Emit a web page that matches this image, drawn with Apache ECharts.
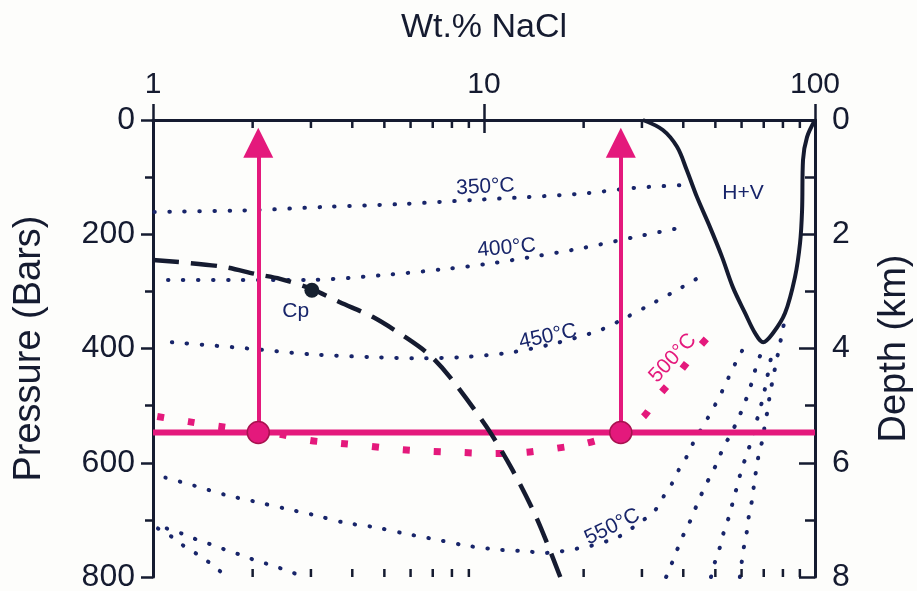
<!DOCTYPE html>
<html>
<head>
<meta charset="utf-8">
<script src="https://cdn.jsdelivr.net/npm/echarts@6/dist/echarts.min.js"></script>
<style>
  html, body { margin: 0; padding: 0; background: #fdfdfb; }
  #chart { width: 917px; height: 591px; }
</style>
</head>
<body>
<div id="chart"></div>
<script>
// Salinity (wt.% NaCl) versus pressure (bars) for the H2O-NaCl system.
// Each isotherm is a list of [wt.% NaCl, pressure in bars] pairs.
const iso350 = [[1.01,161],[1.96,158],[3.35,152],[5.69,147],[9.26,140],[13.5,135],[20.6,128],[28.2,119],[39.6,114]];
const iso400 = [[1.11,280],[1.83,280],[2.92,280],[4.85,272],[7.62,261],[10.5,251],[14.5,238],[19.9,224],[29.6,203],[41.3,186]];
const iso450 = [[1.14,389],[1.94,400],[2.98,410],[4.56,415],[6.28,417],[8.64,415],[12.0,407],[16.4,391],[22.4,368],[27.0,345],[32.8,319],[39.6,293],[47.5,266]];
const iso500 = [[1.03,519],[1.28,528],[1.57,536],[2.40,550],[2.98,561],[3.67,566],[4.52,571],[5.65,577],[6.96,580],[8.58,582],[10.7,584],[13.3,582],[16.4,575],[20.3,566],[24.7,550],[30.0,522],[34.0,480],[39.1,440],[44.6,398],[51.3,358]];
const iso550 = [[1.09,626],[1.33,640],[1.65,656],[2.03,668],[2.50,680],[3.09,692],[3.80,705],[4.69,713],[5.77,724],[7.11,734],[8.83,745],[10.95,752],[13.49,755],[15.07,758],[16.7,756],[18.8,751],[20.9,746],[25.2,731],[27.6,717],[30.2,701],[32.8,684],[34.7,661],[37.0,636],[38.8,612],[41.0,589],[42.8,566],[47.5,521],[50.2,496],[52.7,472],[55.0,449],[57.7,424],[60.6,401]];
// higher isotherms: low-salinity limbs (left) and high-salinity limbs (right)
const isoHighLeftA = [[1.035,715],[1.149,731],[1.249,747],[1.368,761],[1.497,777],[1.627,794],[1.685,800]];
const isoHighLeftB = [[1.10,715],[1.223,724],[1.349,734],[1.497,743],[1.65,752],[1.832,761],[2.02,770],[2.24,778],[2.49,787],[2.74,796],[2.82,800]];
const isoHighRightA = [[35.5,800],[37.0,775],[38.6,748],[40.2,724],[42.2,699],[44.0,673],[45.9,649],[48.2,624],[50.6,600],[52.7,575],[55.4,552],[58.1,528],[60.6,503],[62.8,479],[65.0,452],[66.8,426],[69.7,401]];
const isoHighRightB = [[48.5,800],[49.9,773],[51.6,748],[53.1,720],[55.0,694],[56.5,668],[58.1,642],[59.8,615],[61.9,589],[64.1,563],[65.9,538],[67.7,512],[69.7,486],[71.1,461],[72.6,435],[74.1,408]];
const isoHighRightC = [[59.3,800],[60.1,773],[61.0,747],[62.3,719],[63.2,691],[64.6,664],[65.5,636],[67.7,584],[69.7,556],[70.6,531],[72.1,505],[73.1,479],[74.7,452],[76.3,424],[77.9,400],[79.5,373],[81.2,347]];
// critical curve (dashed) and the halite + vapour field boundary
const criticalCurve = [[1.0,245],[1.59,256],[2.06,270],[2.42,278],[3.02,296],[3.67,319],[4.62,345],[5.85,382],[6.87,412],[7.89,450],[10.2,538],[12.2,613],[14.5,700],[17.0,800]];
const criticalPoint = [[3.02,298]];
const haliteVapour = [[30.2,0],[34.7,17.5],[38.3,47],[41.0,88],[44.0,135],[48.2,188],[52.4,240],[56.5,293],[61.5,338],[65.9,373],[69.7,389],[74.7,373],[81.2,338],[87.0,275],[90.1,216],[91.4,158],[92.0,70],[94.6,30],[100,0]];
// boiling path: constant pressure line with two fluid compositions
const pathPressure = 547;
const pathSalinities = [2.08, 25.9];
const arrowTopPressure = 40;
// axis ranges and tick values
const wtRange = [1, 100];
const pressureRange = [0, 800];
const depthRange = [0, 8];
const wtMinorTicks = [2,3,4,5,6,7,8,9,20,30,40,50,60,70,80,90];
// annotations: [text, wt.%, bars, angle, kind]
const annotations = [
  ['350°C', 10.1, 117, 3, 'navy'],
  ['400°C', 11.7, 224, 5, 'navy'],
  ['450°C', 15.6, 379, 12, 'navy'],
  ['550°C', 24.4, 712, 26, 'navy'],
  ['500°C', 37.2, 417, 47, 'magenta'],
  ['Cp', 2.70, 335, 0, 'navy'],
  ['H+V', 60.6, 128, 0, 'navy']
];

const navy = '#18256a';
const ink = '#151b30';
const magenta = '#e4197c';
const font = "'Liberation Sans', Arial, sans-serif";

const chart = echarts.init(document.getElementById('chart'));

function dotted(name, data) {
  return {
    name, type: 'line', data, showSymbol: false, smooth: 0.3, z: 2, silent: true,
    lineStyle: { color: navy, width: 4, type: [0.5, 14.5], cap: 'round' }
  };
}

const option = {
  backgroundColor: '#fdfdfb',
  animation: false,
  grid: { left: 153, right: 102, top: 120, bottom: 14, outerBoundsMode: 'none', containLabel: false },
  xAxis: [
    {
      type: 'log', logBase: 10, min: wtRange[0], max: wtRange[1], position: 'top',
      name: 'Wt.% NaCl', nameLocation: 'middle', nameGap: 75,
      nameTextStyle: { fontFamily: font, fontSize: 34, color: ink },
      axisLine: { lineStyle: { color: ink, width: 3 } },
      axisTick: { inside: true, length: 13, lineStyle: { color: ink, width: 2.5 } },
      axisLabel: { fontFamily: font, fontSize: 30, color: ink, margin: 20 },
      splitLine: { show: false }
    },
    {
      type: 'log', logBase: 10, min: wtRange[0], max: wtRange[1], position: 'bottom',
      axisLine: { lineStyle: { color: ink, width: 3 } },
      axisTick: { inside: true, length: 16, lineStyle: { color: ink, width: 2.5 } },
      axisLabel: { show: false },
      splitLine: { show: false }
    }
  ],
  yAxis: [
    {
      type: 'value', min: pressureRange[0], max: pressureRange[1], interval: 200, inverse: true,
      position: 'left',
      name: 'Pressure (Bars)', nameLocation: 'middle', nameGap: 104, nameRotate: 90,
      nameTextStyle: { fontFamily: font, fontSize: 38, color: ink },
      axisLine: { lineStyle: { color: ink, width: 3 } },
      axisTick: { inside: false, length: 12, lineStyle: { color: ink, width: 2.5 } },
      minorTick: { show: true, splitNumber: 2, length: 8, lineStyle: { color: ink, width: 2.5 } },
      axisLabel: { fontFamily: font, fontSize: 32, color: ink, margin: 18 },
      splitLine: { show: false }
    },
    {
      type: 'value', min: depthRange[0], max: depthRange[1], interval: 2, inverse: true,
      position: 'right',
      name: 'Depth (km)', nameLocation: 'middle', nameGap: 61, nameRotate: 90,
      nameTextStyle: { fontFamily: font, fontSize: 38, color: ink },
      axisLine: { lineStyle: { color: ink, width: 3 } },
      axisTick: { inside: true, length: 16, lineStyle: { color: ink, width: 2.5 } },
      minorTick: { show: true, splitNumber: 2, length: 10, lineStyle: { color: ink, width: 2.5 } },
      axisLabel: { fontFamily: font, fontSize: 32, color: ink, margin: 17 },
      splitLine: { show: false }
    }
  ],
  series: [
    dotted('350', iso350),
    dotted('400', iso400),
    dotted('450', iso450),
    dotted('550', iso550),
    dotted('highLeftA', isoHighLeftA),
    dotted('highLeftB', isoHighLeftB),
    dotted('highRightA', isoHighRightA),
    dotted('highRightB', isoHighRightB),
    dotted('highRightC', isoHighRightC),
    {
      name: '500', type: 'line', data: iso500, showSymbol: false, smooth: 0.3, z: 3, silent: true,
      lineStyle: { color: magenta, width: 7, type: [7, 24], cap: 'butt' }
    },
    {
      name: 'critical', type: 'line', data: criticalCurve, showSymbol: false, smooth: 0.3, z: 4, silent: true,
      lineStyle: { color: ink, width: 4.5, type: [26, 12] }
    },
    {
      name: 'H+V', type: 'line', data: haliteVapour, showSymbol: false, smooth: 0.35, z: 4, silent: true,
      lineStyle: { color: ink, width: 4 }
    },
    {
      name: 'path', type: 'line', showSymbol: false, z: 3, silent: true,
      data: wtRange.map(w => [w, pathPressure]),
      lineStyle: { color: magenta, width: 6 },
      markLine: {
        silent: true, symbol: ['none', 'triangle'], symbolSize: 30,
        label: { show: false },
        lineStyle: { color: magenta, width: 4, type: 'solid' },
        itemStyle: { color: magenta },
        data: pathSalinities.map(w => [{ coord: [w, pathPressure] }, { coord: [w, arrowTopPressure] }])
      }
    },
    {
      name: 'fluids', type: 'scatter', z: 6, silent: true,
      data: pathSalinities.map(w => [w, pathPressure]),
      symbolSize: 22,
      itemStyle: { color: magenta, borderColor: '#a8124f', borderWidth: 1.5, opacity: 1 }
    },
    {
      name: 'Cp', type: 'scatter', z: 6, silent: true, data: criticalPoint, symbolSize: 15,
      itemStyle: { color: '#16202f', opacity: 1 }
    },
    {
      name: 'labels', type: 'scatter', z: 7, silent: true, symbolSize: 1,
      itemStyle: { color: 'rgba(0,0,0,0)', opacity: 1 },
      data: annotations.map(a => ({
        value: [a[1], a[2]],
        label: {
          show: true, position: 'inside', formatter: a[0], rotate: a[3],
          fontFamily: font, fontSize: 21, textBorderWidth: 0, textShadowBlur: 0, opacity: 1,
          color: a[4] === 'magenta' ? magenta : navy
        }
      }))
    },
    {
      name: 'minorTicks', type: 'custom', silent: true, clip: false, z: 5,
      data: wtMinorTicks.map(v => [v, pressureRange[0]]),
      renderItem(params, api) {
        const v = api.value(0);
        const top = api.coord([v, pressureRange[0]]);
        const bot = api.coord([v, pressureRange[1]]);
        return {
          type: 'group',
          children: [
            { type: 'line', shape: { x1: top[0], y1: top[1], x2: top[0], y2: top[1] + 8 }, style: { stroke: ink, lineWidth: 2.5 } },
            { type: 'line', shape: { x1: bot[0], y1: bot[1], x2: bot[0], y2: bot[1] - 8 }, style: { stroke: ink, lineWidth: 2.5 } }
          ]
        };
      }
    }
  ]
};

chart.setOption(option);
</script>
</body>
</html>
